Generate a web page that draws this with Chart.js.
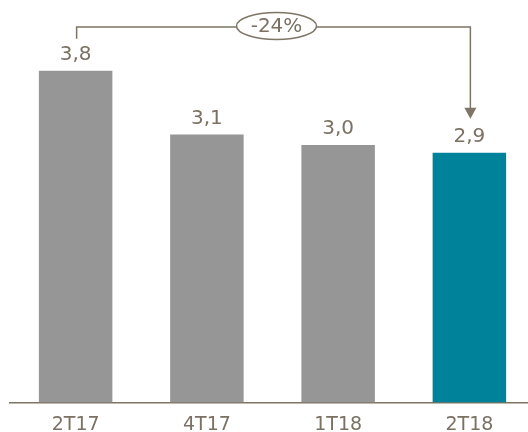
<!DOCTYPE html>
<html>
<head>
<meta charset="utf-8">
<script src="https://cdn.jsdelivr.net/npm/chart.js@4.4.1/dist/chart.umd.min.js"></script>
<style>
  html, body { margin: 0; padding: 0; background: #fff; overflow: hidden; }
  #wrap { width: 536px; height: 432px; }
</style>
</head>
<body>
<div id="wrap"><canvas id="bar-chart"></canvas></div>
<script>
var categories = ['2T17', '4T17', '1T18', '2T18'];
var values = [3.84, 3.1, 2.98, 2.89];
var barColors = ['#969696', '#969696', '#969696', '#00829a'];
var changeLabel = '-24%';

var textColor = '#7a7163';
var lineColor = '#7d7565';

Chart.defaults.font.family = '"DejaVu Sans", Verdana, sans-serif';
Chart.defaults.color = textColor;

function fmt(v) {
    return v.toFixed(1).replace('.', ',');
}

// values above the bars
var valueLabels = {
    id: 'valueLabels',
    afterDatasetsDraw: function(chart) {
        var ctx = chart.ctx;
        var meta = chart.getDatasetMeta(0);
        ctx.save();
        ctx.font = '20px "DejaVu Sans", sans-serif';
        ctx.fillStyle = textColor;
        ctx.textAlign = 'center';
        ctx.textBaseline = 'bottom';
        meta.data.forEach(function(bar, i) {
            ctx.fillText(fmt(values[i]), bar.x, bar.y - 6);
        });
        ctx.restore();
    }
};

// bracket with arrow from first to last bar
var changeArrow = {
    id: 'changeArrow',
    afterDraw: function(chart) {
        var ctx = chart.ctx;
        var meta = chart.getDatasetMeta(0);
        var first = meta.data[0];
        var last = meta.data[meta.data.length - 1];
        var yTop = 27;
        var x1 = first.x + 1;
        var x2 = last.x + 1;
        var yLeft = first.y - 32;
        var yTip = last.y - 34;

        ctx.save();
        ctx.strokeStyle = lineColor;
        ctx.fillStyle = lineColor;
        ctx.lineWidth = 1.5;
        ctx.beginPath();
        ctx.moveTo(x1, yLeft);
        ctx.lineTo(x1, yTop);
        ctx.lineTo(x2, yTop);
        ctx.lineTo(x2, yTip - 10);
        ctx.stroke();

        ctx.beginPath();
        ctx.moveTo(x2 - 6, yTip - 11);
        ctx.lineTo(x2 + 6, yTip - 11);
        ctx.lineTo(x2, yTip);
        ctx.closePath();
        ctx.fill();

        var cx = (first.x + last.x) / 2 + 4;
        ctx.beginPath();
        ctx.ellipse(cx, yTop - 1, 40, 13.5, 0, 0, Math.PI * 2);
        ctx.fillStyle = '#fff';
        ctx.fill();
        ctx.stroke();

        ctx.fillStyle = textColor;
        ctx.font = '20px "DejaVu Sans", sans-serif';
        ctx.textAlign = 'center';
        ctx.textBaseline = 'middle';
        ctx.fillText(changeLabel, cx, yTop);
        ctx.restore();
    }
};

var chart = new Chart(document.getElementById('bar-chart'), {
    type: 'bar',
    data: {
        labels: categories,
        datasets: [{
            data: values,
            backgroundColor: barColors,
            borderWidth: 0,
            barPercentage: 0.56,
            categoryPercentage: 1
        }]
    },
    options: {
        responsive: true,
        maintainAspectRatio: false,
        animation: false,
        layout: { padding: { left: 10, right: 1, top: 5, bottom: 0 } },
        plugins: {
            legend: { display: false },
            tooltip: { enabled: false }
        },
        scales: {
            x: {
                grid: { display: false },
                border: { display: true, color: lineColor, width: 1.5 },
                ticks: { padding: 3, color: textColor, font: { size: 19 } },
                afterFit: function(scale) { scale.height = 29.5; }
            },
            y: {
                display: false,
                min: 0,
                max: 4.6
            }
        }
    },
    plugins: [valueLabels, changeArrow]
});
</script>
</body>
</html>
